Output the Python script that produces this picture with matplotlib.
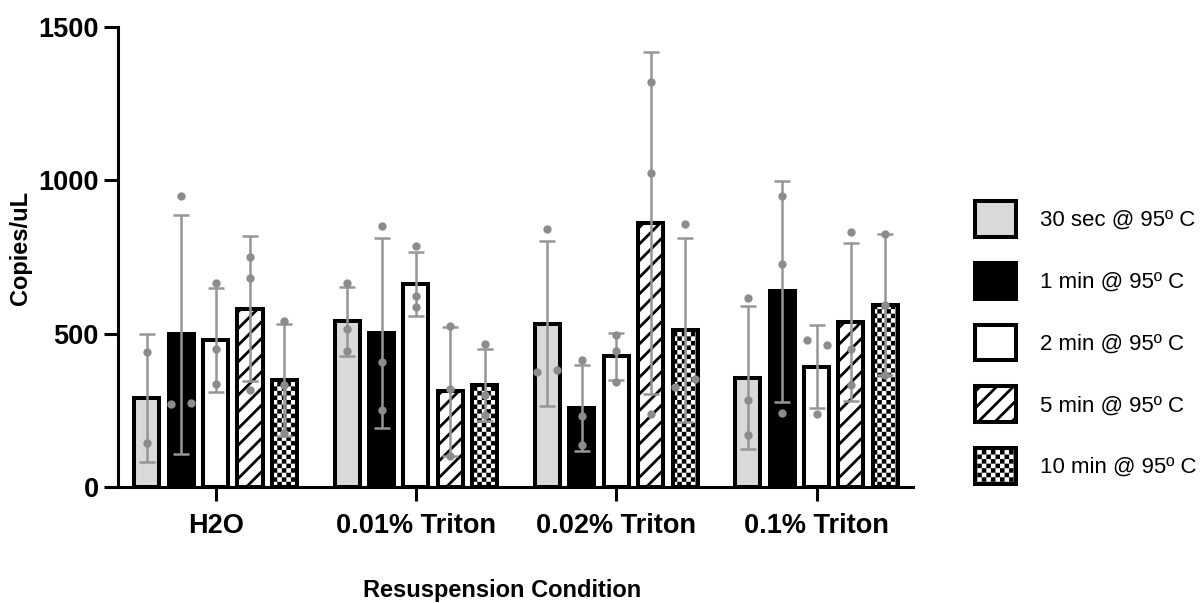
import warnings
import matplotlib
matplotlib.use('Agg')
import matplotlib.pyplot as plt
import matplotlib.hatch as mhatch
from matplotlib.path import Path
import numpy as np

warnings.filterwarnings('ignore')

plt.rcParams['font.family'] = ['Liberation Sans', 'DejaVu Sans']
plt.rcParams['hatch.linewidth'] = 2.0

conditions = ['H2O', '0.01% Triton', '0.02% Triton', '0.1% Triton']
times = ['30 sec @ 95º C', '1 min @ 95º C', '2 min @ 95º C',
         '5 min @ 95º C', '10 min @ 95º C']

# bar heights (mean) per heating time, one value per condition
mean_30s = [290, 540, 533, 357]
mean_1m = [498, 502, 258, 638]
mean_2m = [480, 662, 426, 392]
mean_5m = [582, 312, 860, 537]
mean_10m = [349, 333, 512, 595]

# error bars (SD)
sd_30s = [210, 112, 268, 234]
sd_1m = [390, 310, 140, 360]
sd_2m = [170, 105, 77, 135]
sd_5m = [235, 210, 558, 258]
sd_10m = [182, 118, 300, 231]

# individual replicates
pts_30s = [[440, 143], [666, 516, 442], [842, 375, 380], [617, 285, 169]]
pts_1m = [[949, 270, 275], [850, 407, 250], [413, 232, 136], [949, 728, 242]]
pts_2m = [[666, 449, 335], [785, 622, 587], [495, 443, 342], [478, 464, 239]]
pts_5m = [[750, 681, 315], [525, 318, 100], [1321, 1025, 239], [831, 449, 334]]
pts_10m = [[540, 332, 175], [465, 299, 234], [859, 326, 353], [826, 592, 366]]

means = [mean_30s, mean_1m, mean_2m, mean_5m, mean_10m]
sds = [sd_30s, sd_1m, sd_2m, sd_5m, sd_10m]
points = [pts_30s, pts_1m, pts_2m, pts_5m, pts_10m]

fills = ['#d9d9d9', 'black', 'white', 'white', 'white']
hatches = [None, None, None, '//', 'c']


# checkerboard hatch ('c')
class CheckerHatch(mhatch.HatchPatternBase):
    def __init__(self, hatch, density):
        self.n = 22 if 'c' in hatch else 0
        self.num_vertices = (self.n * self.n // 2) * 5

    def set_vertices_and_codes(self, vertices, codes):
        n = self.n
        ins = 0.0139
        k = 0
        for i in range(n):
            for j in range(n):
                if (i + j) % 2:
                    continue
                x0, y0 = i / n + ins, j / n + ins
                x1, y1 = (i + 1) / n - ins, (j + 1) / n - ins
                vertices[k:k + 5] = [[x0, y0], [x1, y0], [x1, y1], [x0, y1], [x0, y0]]
                codes[k:k + 5] = [Path.MOVETO, Path.LINETO, Path.LINETO,
                                  Path.LINETO, Path.CLOSEPOLY]
                k += 5


mhatch._hatch_types.append(CheckerHatch)

fig = plt.figure(figsize=(12.01, 6.03), dpi=100)
ax = fig.add_axes([0.0983, 0.1924, 0.6620, 0.7628])

x = np.arange(len(conditions))
pitch = 0.1717
width = 0.125
handles = []
for i in range(len(times)):
    xi = x + (i - 2) * pitch
    b = ax.bar(xi, means[i], width, color=fills[i], edgecolor='black',
               linewidth=2.9, hatch=hatches[i], label=times[i], zorder=2)
    handles.append(b)
    ax.errorbar(xi, means[i], yerr=sds[i], fmt='none', ecolor='#969696',
                elinewidth=1.8, capsize=6, capthick=1.8, zorder=3)
    for g in range(len(conditions)):
        vals = np.array(points[i][g], dtype=float)
        offs = np.zeros(len(vals))
        for a in range(len(vals)):
            for c in range(a + 1, len(vals)):
                if abs(vals[a] - vals[c]) < 30:
                    offs[a] = -0.05
                    offs[c] = 0.05
        ax.scatter(xi[g] + offs, vals, s=36, color='#8c8c8c', zorder=4,
                   linewidths=0)

ax.set_xlim(-0.487, 3.482)
ax.set_ylim(0, 1500)
ax.set_yticks([0, 500, 1000, 1500])
ax.set_xticks(x)
ax.set_xticklabels(conditions, fontsize=19.5, fontweight='bold')
for t in ax.get_yticklabels():
    t.set_fontsize(19.5)
    t.set_fontweight('bold')
ax.tick_params(axis='y', length=10, width=2.2, pad=4)
ax.tick_params(axis='x', length=10, width=2.2, pad=9)
for s in ['top', 'right']:
    ax.spines[s].set_visible(False)
for s in ['left', 'bottom']:
    ax.spines[s].set_linewidth(2.2)

ax.set_ylabel('Copies/uL', fontsize=17, fontweight='bold')
ax.yaxis.set_label_coords(-0.108, 0.52)
ax.set_xlabel('Resuspension Condition', fontsize=17, fontweight='bold')
ax.xaxis.set_label_coords(0.483, -0.2)

fig.legend(handles=handles, labels=times, loc='center left',
           bbox_to_anchor=(0.812, 0.432), frameon=False, fontsize=16,
           handlelength=1.82, handleheight=2.1, labelspacing=1.17,
           handletextpad=1.1, borderpad=0, borderaxespad=0)

fig.savefig('out.png', dpi=100)
